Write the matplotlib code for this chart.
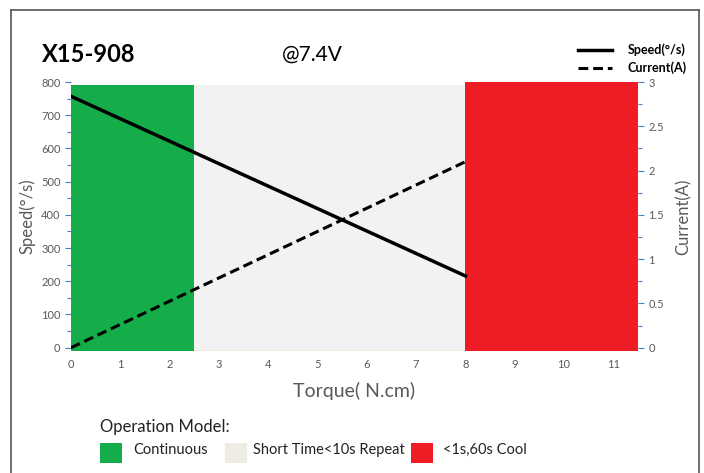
import matplotlib
matplotlib.use('Agg')
import matplotlib.pyplot as plt
from matplotlib.patches import Rectangle
from matplotlib.lines import Line2D
from matplotlib.ticker import MultipleLocator

plt.rcParams['font.family'] = ['Lato', 'DejaVu Sans']

# data
torque = [0, 8]
speed = [757, 216]
current = [0, 2.1]

zone_names = ['Continuous', 'Short Time<10s Repeat', '<1s,60s Cool']
zone_colors = ['#14ad4a', '#f2f2f2', '#ee1c25']
zone_start = [0, 0, 8]
zone_end = [2.5, 10.4, 11.5]
zone_top = [790, 790, 800]
legend_colors = ['#14ad4a', '#efede3', '#ee1c25']

x_ticks = list(range(0, 12))
speed_ticks = list(range(0, 801, 100))
current_ticks = [0, 0.5, 1, 1.5, 2, 2.5, 3]

grey = '#595959'
tick_blue = '#4a7ebb'

fig = plt.figure(figsize=(7.04, 4.73), dpi=100)
ax = fig.add_axes([71/704, 1-351/473, (638-71)/704, (351-82)/473])

# zones: gray first (with its beige base), then green and red on top
ax.add_patch(Rectangle((zone_start[1], -12), zone_end[1]-zone_start[1], zone_top[1]+12,
                       facecolor=zone_colors[1], edgecolor='none', zorder=1))
ax.plot([0, 10.4], [-10, -10], color='#ede9d8', lw=2, zorder=1.1)
for i in [0, 2]:
    ax.add_patch(Rectangle((zone_start[i], -12), zone_end[i]-zone_start[i], zone_top[i]+12,
                           facecolor=zone_colors[i], edgecolor='none', zorder=1.2))

ax.plot(torque, speed, color='black', lw=2.5, zorder=3)
ax.set_xlim(0, 11.5)
ax.set_ylim(-10, 800)
ax.set_xticks(x_ticks)
ax.set_yticks(speed_ticks)
ax.yaxis.set_minor_locator(MultipleLocator(50))
for s in ax.spines.values():
    s.set_visible(False)
ax.tick_params(axis='x', length=0, labelsize=8, labelcolor=grey, pad=6)
ax.tick_params(axis='y', which='both', color=tick_blue, labelsize=8, labelcolor=grey, width=0.8)
ax.tick_params(axis='y', which='major', length=4)
ax.tick_params(axis='y', which='minor', length=3)
ax.set_xlabel('Torque( N.cm)', fontsize=14, color=grey, labelpad=8)
ax.set_ylabel('Speed(°/s)', fontsize=12, color=grey, labelpad=4)

ax2 = ax.twinx()
ax2.plot(torque, current, color='black', lw=2.2, ls=(0, (3.2, 1.6)), zorder=3)
ax2.set_ylim(-3/80, 3)
ax2.set_yticks(current_ticks)
ax2.set_yticklabels(['0', '0.5', '1', '1.5', '2', '2.5', '3'])
ax2.yaxis.set_minor_locator(MultipleLocator(0.25))
for s in ax2.spines.values():
    s.set_visible(False)
ax2.tick_params(axis='y', which='both', color=tick_blue, labelsize=8, labelcolor=grey, width=0.8)
ax2.tick_params(axis='y', which='major', length=4)
ax2.tick_params(axis='y', which='minor', length=3)
ax2.set_ylabel('Current(A)', fontsize=12, color=grey, labelpad=8)

# titles
fig.text(42/704, 1-55/473, 'X15-908', fontsize=17, fontweight='bold', va='center', ha='left')
fig.text(282/704, 1-55/473, '@7.4V', fontsize=15, va='center', ha='left')

# top right legend
fig.add_artist(Line2D([578/704, 612/704], [1-50/473]*2, color='black', lw=2.5))
fig.add_artist(Line2D([578/704, 612/704], [1-68/473]*2, color='black', lw=2.2, ls=(0, (3.2, 1.6))))
fig.text(628/704, 1-50/473, 'Speed(°/s)', fontsize=9, fontweight='bold', va='center')
fig.text(628/704, 1-68/473, 'Current(A)', fontsize=9, fontweight='bold', va='center')

# bottom legend
fig.text(100/704, 1-427/473, 'Operation Model:', fontsize=12, va='center', color='#222222')
sq_x = [100, 225, 411]
txt_x = [133, 253, 443]
for i in range(3):
    fig.add_artist(Rectangle((sq_x[i]/704, 1-463/473), 22/704, 20/473,
                             facecolor=legend_colors[i], edgecolor='none'))
    fig.text(txt_x[i]/704, 1-450/473, zone_names[i], fontsize=10.5, va='center', color='#222222')

# outer frame
fr = '#555555'
fig.add_artist(Line2D([11/704, 11/704], [0, 1-10/473], color=fr, lw=1.2))
fig.add_artist(Line2D([11/704, 699/704], [1-10/473]*2, color=fr, lw=1.2))
fig.add_artist(Line2D([699/704, 699/704], [0, 1-10/473], color=fr, lw=1.2))

fig.savefig('out.png', dpi=100)
